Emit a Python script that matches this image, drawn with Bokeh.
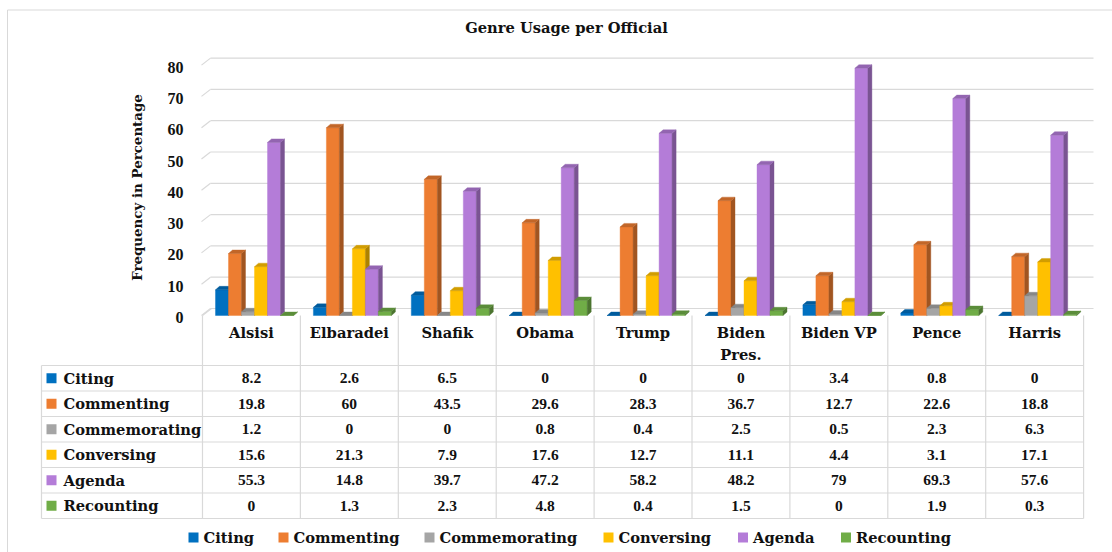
import math
from bokeh.plotting import figure
from bokeh.models import Range1d, ColumnDataSource
from bokeh.core.properties import value
from bokeh.embed import file_html
from bokeh.resources import INLINE

# ---------------- data ----------------
title_text = "Genre Usage per Official"
y_axis_title = "Frequency in Percentage"
officials = ["Alsisi", "Elbaradei", "Shafik", "Obama", "Trump",
             "Biden Pres.", "Biden VP", "Pence", "Harris"]
genres = ["Citing", "Commenting", "Commemorating", "Conversing", "Agenda", "Recounting"]
citing = [8.2, 2.6, 6.5, 0, 0, 0, 3.4, 0.8, 0]
commenting = [19.8, 60, 43.5, 29.6, 28.3, 36.7, 12.7, 22.6, 18.8]
commemorating = [1.2, 0, 0, 0.8, 0.4, 2.5, 0.5, 2.3, 6.3]
conversing = [15.6, 21.3, 7.9, 17.6, 12.7, 11.1, 4.4, 3.1, 17.1]
agenda = [55.3, 14.8, 39.7, 47.2, 58.2, 48.2, 79, 69.3, 57.6]
recounting = [0, 1.3, 2.3, 4.8, 0.4, 1.5, 0, 1.9, 0.3]
series = [citing, commenting, commemorating, conversing, agenda, recounting]
genre_colors = ["#0070C0", "#ED7D31", "#A5A5A5", "#FFC000", "#B47CD8", "#70AD47"]
y_ticks = [0, 10, 20, 30, 40, 50, 60, 70, 80]
y_tick_labels = ["0", "10", "20", "30", "40", "50", "60", "70", "80"]

# ---------------- layout (pixels) ----------------
W, H = 1112, 552
FLOOR_Y = 315.0
PX_PER_UNIT = 3.13
COL0 = 202.0
COL_W = 97.9

def X(px):
    return (px - COL0) / COL_W

def Y(py):
    return (FLOOR_Y - py) / PX_PER_UNIT

def shade(hexc, f):
    r, g, b = int(hexc[1:3], 16), int(hexc[3:5], 16), int(hexc[5:7], 16)
    return "#%02x%02x%02x" % (int(r * f), int(g * f), int(b * f))

WORD_FONT = value("DejaVu Serif")
NUM_FONT = value("Liberation Serif")
TXT = "#111111"
GRID = "#d9d9d9"

p = figure(width=W, height=H, x_range=Range1d(X(0), X(W)), y_range=Range1d(Y(H), Y(0)),
           output_backend="svg", toolbar_location=None, min_border=0,
           x_axis_type=None, y_axis_type=None, outline_line_color=None,
           background_fill_color="white", border_fill_color="white")

# outer frame (top and left edges)
p.segment(x0=[X(7), X(7)], y0=[Y(9.5), Y(9.5)], x1=[X(1112), X(7)], y1=[Y(9.5), Y(552)],
          line_color=GRID, line_width=1)

# back wall gridlines
wall_dx = 9 / COL_W
wall_dy = 7 / PX_PER_UNIT
wall_x0 = X(201)
wall_x1 = X(1093)
p.segment(x0=[wall_x0 + wall_dx] * len(y_ticks), y0=[v + wall_dy for v in y_ticks],
          x1=[wall_x1] * len(y_ticks), y1=[v + wall_dy for v in y_ticks],
          line_color=GRID, line_width=1.2)
p.segment(x0=[wall_x0] * len(y_ticks), y0=y_ticks,
          x1=[wall_x0 + wall_dx] * len(y_ticks), y1=[v + wall_dy for v in y_ticks],
          line_color=GRID, line_width=1.2)

# 3D bars
bar_w = 13 / COL_W
gap_left = 13 / COL_W
ddx = 4 / COL_W
ddy = 3.5 / PX_PER_UNIT
xs, ys, fills = [], [], []
for i in range(len(officials)):
    for j, s in enumerate(series):
        v = s[i]
        x0 = i + gap_left + j * bar_w
        x1 = x0 + bar_w
        c = genre_colors[j]
        # front
        xs.append([x0, x1, x1, x0]); ys.append([0, 0, v, v]); fills.append(c)
        # side
        xs.append([x1, x1 + ddx, x1 + ddx, x1]); ys.append([0, ddy, v + ddy, v]); fills.append(shade(c, 0.68))
        # top
        xs.append([x0, x1, x1 + ddx, x0 + ddx]); ys.append([v, v, v + ddy, v + ddy]); fills.append(shade(c, 0.82))
bars = ColumnDataSource(dict(xs=xs, ys=ys, fill=fills))
p.patches("xs", "ys", source=bars, fill_color="fill", line_color="fill", line_width=0.4)

# y tick labels
p.text(x=[X(183)] * len(y_ticks), y=[v - 2 / PX_PER_UNIT for v in y_ticks], text=y_tick_labels,
       text_font=NUM_FONT, text_font_style="bold", text_font_size="16px",
       text_align="right", text_baseline="middle", text_color=TXT)

# y axis title
p.text(x=[X(136)], y=[Y(187)], text=[y_axis_title], angle=math.pi / 2,
       text_font=WORD_FONT, text_font_style="bold", text_font_size="13.4px",
       text_align="center", text_baseline="middle", text_color=TXT)

# title
p.text(x=[X(566)], y=[Y(27)], text=[title_text],
       text_font=WORD_FONT, text_font_style="bold", text_font_size="14.7px",
       text_align="center", text_baseline="middle", text_color=TXT)

# data table
n = len(officials)
TABLE_LEFT = X(41)
ROW_TOP = 365.0
ROW_H = 25.5
row_lines = [Y(ROW_TOP + ROW_H * k) for k in range(len(genres) + 1)]
p.segment(x0=[TABLE_LEFT] * len(row_lines), y0=row_lines, x1=[n] * len(row_lines), y1=row_lines,
          line_color=GRID, line_width=1.2)
p.segment(x0=list(range(n + 1)), y0=[Y(FLOOR_Y)] * (n + 1), x1=list(range(n + 1)),
          y1=[Y(ROW_TOP + ROW_H * len(genres))] * (n + 1), line_color=GRID, line_width=1.2)
p.segment(x0=[TABLE_LEFT, X(202)], y0=[Y(ROW_TOP), Y(315)],
          x1=[TABLE_LEFT, X(211)], y1=[Y(ROW_TOP + ROW_H * len(genres)), Y(308)],
          line_color=GRID, line_width=1.2)

# header labels (wrap long names)
hx, hy, ht = [], [], []
for i, name in enumerate(officials):
    lines = name.rsplit(" ", 1) if len(name) > 10 else [name]
    for k, ln in enumerate(lines):
        hx.append(i + 0.5); hy.append(Y(332 + 22 * k)); ht.append(ln)
p.text(x=hx, y=hy, text=ht, text_font=WORD_FONT, text_font_style="bold", text_font_size="14.7px",
       text_align="center", text_baseline="middle", text_color=TXT)

# values
vx, vy, vt = [], [], []
for j, s in enumerate(series):
    for i, v in enumerate(s):
        vx.append(i + 0.5); vy.append(Y(ROW_TOP + ROW_H * (j + 0.5))); vt.append("%g" % v)
p.text(x=vx, y=vy, text=vt, text_font=NUM_FONT, text_font_style="bold", text_font_size="15.5px",
       text_align="center", text_baseline="middle", text_color=TXT)

# row labels with keys
row_y = [Y(ROW_TOP + ROW_H * (j + 0.5)) for j in range(len(genres))]
p.rect(x=[X(51)] * len(genres), y=row_y, width=10, height=10, width_units="screen",
       height_units="screen", fill_color=genre_colors, line_color=None)
p.text(x=[X(63)] * len(genres), y=row_y, text=genres, text_font=WORD_FONT, text_font_style="bold",
       text_font_size="14.7px", text_align="left", text_baseline="middle", text_color=TXT)

# bottom legend
legend_px = [188, 278, 424, 603, 737.5, 840.5]
ly = Y(537)
p.rect(x=[X(px + 5) for px in legend_px], y=[ly] * len(genres), width=10, height=10,
       width_units="screen", height_units="screen", fill_color=genre_colors, line_color=None)
p.text(x=[X(px + 15) for px in legend_px], y=[ly] * len(genres), text=genres, text_font=WORD_FONT,
       text_font_style="bold", text_font_size="14.7px", text_align="left", text_baseline="middle",
       text_color=TXT)

open("out.html", "w").write(file_html(p, INLINE))
